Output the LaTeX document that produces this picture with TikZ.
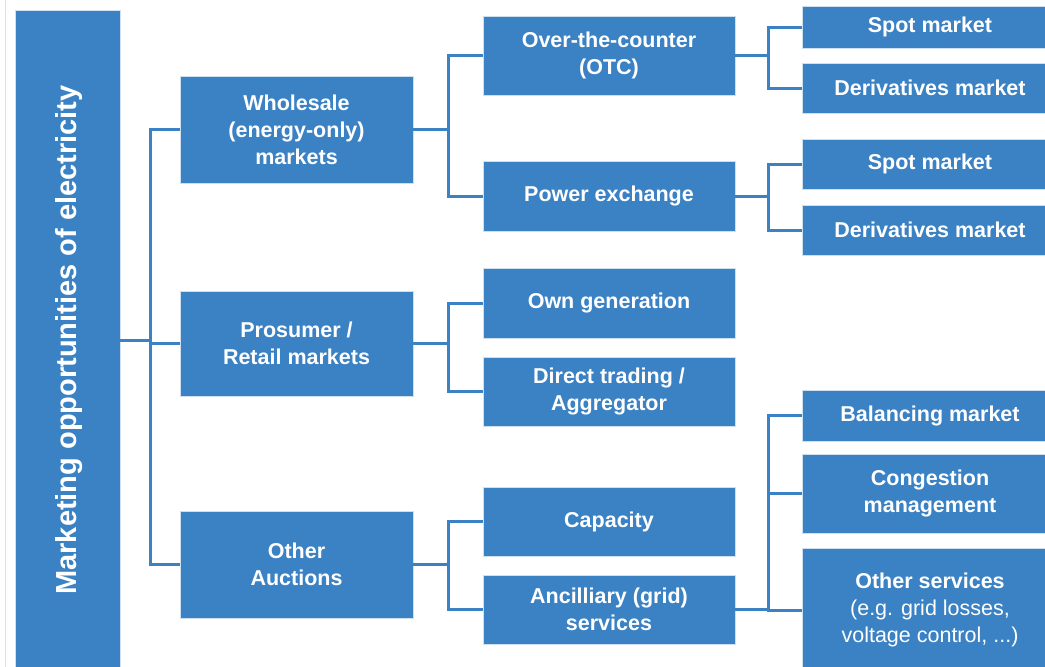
\documentclass[tikz,border=0pt]{standalone}
\usepackage{fontspec}
\setmainfont{Liberation Sans}
\definecolor{boxblue}{RGB}{59,130,196}
\begin{document}
\begin{tikzpicture}[x=1pt,y=-1pt,
  box/.style={fill=boxblue, draw=white!75!boxblue, line width=0.8pt, text=white,
    font=\fontsize{21.5}{27}\selectfont\bfseries, align=center, inner sep=0pt, outer sep=0pt},
  sz/.style 2 args={minimum width=#1pt, minimum height=#2pt},
  conn/.style={draw=boxblue, line width=3pt}]
\clip (0,0) rectangle (1045,667);
\fill[white] (0,0) rectangle (1045,667);
\draw[black!12, line width=1pt] (5.5,0) -- (5.5,667);

% root
\node[box, sz={105}{660}] (root) at (67.5,340) {};
\node[text=white, font=\fontsize{29}{34}\selectfont\bfseries, rotate=90] (roottext) at (69.5,340) {Marketing opportunities of electricity};

% first level
\node[box, sz={233}{107}] (whole) at (296.5,129.5) {Wholesale\\(energy-only)\\markets};
\node[box, sz={233}{105}] (pros)  at (296.5,343.5) {Prosumer /\\Retail markets};
\node[box, sz={233}{107}] (other) at (296.5,564.5) {Other\\Auctions};

% second level
\node[box, sz={252}{79}] (otc) at (609,55.5) {Over-the-counter\\(OTC)};
\node[box, sz={252}{70}] (pex) at (609,196) {Power exchange};
\node[box, sz={252}{70}] (own) at (609,303) {Own generation};
\node[box, sz={252}{69}] (dir) at (609,391.5) {Direct trading /\\Aggregator};
\node[box, sz={252}{69}] (cap) at (609,521.5) {Capacity};
\node[box, sz={252}{69}] (anc) at (609,609.5) {Ancilliary (grid)\\services};

% third level
\node[box, sz={256}{42}] (spot1) at (930,27) {Spot market};
\node[box, sz={256}{50}] (der1)  at (930,88) {Derivatives market};
\node[box, sz={256}{50}] (spot2) at (930,164) {Spot market};
\node[box, sz={256}{50}] (der2)  at (930,230) {Derivatives market};
\node[box, sz={256}{51}] (bal)   at (930,415.5) {Balancing market};
\node[box, sz={256}{79}] (cong)  at (930,493.5) {Congestion\\management};
\node[box, sz={256}{124}] (osv)  at (930,610) {Other services\\{\mdseries(e.g. grid losses,}\\{\mdseries voltage control, ...)}};

% junctions
\coordinate (j0) at (150,340);
\path (whole.east) ++(35,0) coordinate (j1);
\path (pros.east)  ++(35,0) coordinate (j2);
\path (other.east) ++(35,0) coordinate (j3);
\path (otc.east)   ++(33,0) coordinate (j4);
\path (pex.east)   ++(33,0) coordinate (j5);
\path (anc.east)   ++(33,0) coordinate (j6);

% connectors
\draw[conn] (root.east) -- (j0);
\draw[conn] (whole.west) -| (j0) |- (other.west);
\draw[conn] (j0) |- (pros.west);

\draw[conn] (whole.east) -- (j1);
\draw[conn] (otc.west) -| (j1) |- (pex.west);
\draw[conn] (pros.east) -- (j2);
\draw[conn] (own.west) -| (j2) |- (dir.west);
\draw[conn] (other.east) -- (j3);
\draw[conn] (cap.west) -| (j3) |- (anc.west);

\draw[conn] (otc.east) -- (j4);
\draw[conn] (spot1.west) -| (j4) |- (der1.west);
\draw[conn] (pex.east) -- (j5);
\draw[conn] (spot2.west) -| (j5) |- (der2.west);
\draw[conn] (anc.east) -- (j6);
\draw[conn] (bal.west) -| (j6) |- (osv.west);
\draw[conn] (j6) |- (cong.west);
\end{tikzpicture}
\end{document}
